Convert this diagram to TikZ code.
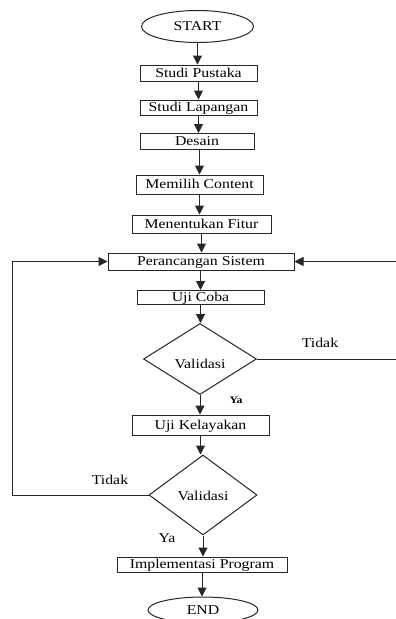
\documentclass[tikz,border=0pt]{standalone}
\usepackage{fontspec}
\setmainfont{Liberation Serif}[FakeStretch=1.17]
\usetikzlibrary{arrows.meta,shapes.geometric}
\begin{document}
\begin{tikzpicture}[x=1pt,y=-1pt,
  font=\fontsize{13.5}{16}\selectfont,
  ln/.style={draw=black!85, line width=1pt},
  box/.style={ln, rectangle, inner sep=0pt, anchor=center, text height=8pt, text depth=0pt},
  term/.style={ln, ellipse, inner sep=0pt, text height=8pt, text depth=0pt},
  dec/.style={ln, diamond, inner sep=0pt},
  arr/.style={ln, -{Triangle[length=9pt,width=9pt]}},
  lbl/.style={inner sep=0pt, text height=8pt, text depth=0pt}]
\fill[white] (0,0) rectangle (396,619);
\useasboundingbox (0,0) rectangle (396,619);

\node[term, minimum width=112pt, minimum height=32pt] (start) at (197.5,26.5) {START};
\node[box, minimum width=117pt, minimum height=16pt] (sp) at (198.5,73) {Studi Pustaka};
\node[box, minimum width=117pt, minimum height=15pt] (sl) at (198.5,107.5) {Studi Lapangan};
\node[box, minimum width=114pt, minimum height=16pt] (ds) at (197,141.5) {Desain};
\node[box, minimum width=127pt, minimum height=19pt] (mc) at (199.5,184.5) {Memilih Content};
\node[box, minimum width=139pt, minimum height=18pt] (mf) at (201.5,224) {Menentukan Fitur};
\node[box, minimum width=186pt, minimum height=17pt] (ps) at (201,261.5) {Perancangan Sistem};
\node[box, minimum width=127pt, minimum height=14pt] (uc) at (200.5,297.5) {Uji Coba};
\node[dec, minimum width=113pt, minimum height=71pt] (v1) at (200,359) {};
\node[lbl] at (200,364) {Validasi};
\node[box, minimum width=137pt, minimum height=20pt] (uk) at (200.5,425) {Uji Kelayakan};
\node[dec, minimum width=108pt, minimum height=80pt] (v2) at (203,495) {};
\node[lbl] at (203,496) {Validasi};
\node[box, minimum width=170pt, minimum height=15pt] (ip) at (202,564.5) {Implementasi Program};
\node[term, minimum width=110pt, minimum height=26pt] (end) at (203,610) {END};

\coordinate (r) at (397,0);
\coordinate (l) at (12,0);

\draw[arr] (start.south) -- (start.south |- sp.north);
\draw[arr] (sp.south) -- (sp.south |- sl.north);
\draw[arr] (sl.south) -- (sl.south |- ds.north);
\draw[arr] (mc.north |- ds.south) -- (mc.north);
\draw[arr] (mc.south) -- (mc.south |- mf.north);
\draw[arr] (mf.south) -- (mf.south |- ps.north);
\draw[arr] (uc.north |- ps.south) -- (uc.north);
\draw[arr] (uc.south) -- (uc.south |- v1.north);
\draw[arr] (v1.south) -- (v1.south |- uk.north);
\draw[arr] (uk.south) -- (uk.south |- v2.north);
\draw[arr] (v2.south) -- (v2.south |- ip.north);
\draw[arr] (ip.south) -- (ip.south |- end.north);

\draw[arr] (v1.east) -- (v1.east -| r) |- (ps.east);
\draw[arr] (v2.west) -- (v2.west -| l) |- (ps.west);

\node[lbl] at (320,343) {Tidak};
\node[lbl, font=\fontsize{10}{11}\selectfont\bfseries] at (236,399) {Ya};
\node[lbl] at (110,480) {Tidak};
\node[lbl] at (167,538) {Ya};
\end{tikzpicture}
\end{document}
